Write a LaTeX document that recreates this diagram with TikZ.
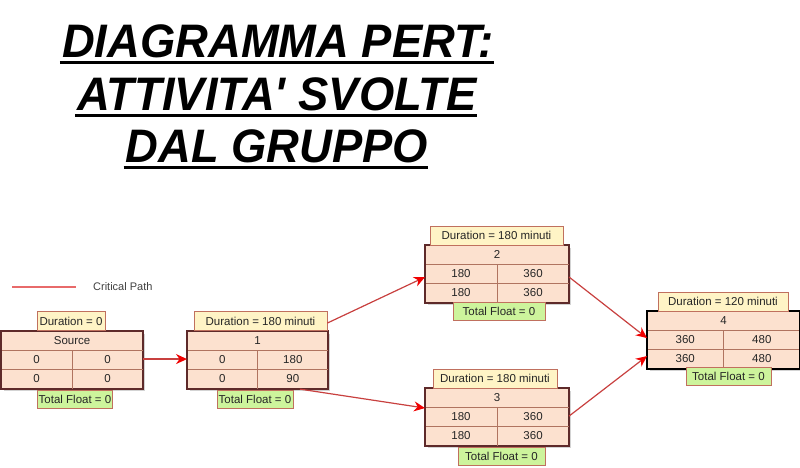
\documentclass[tikz,border=0pt]{standalone}
\usepackage{fontspec}
\setmainfont{Liberation Sans}
\newfontfamily\titlefont[FakeStretch=0.965]{Liberation Sans}
\usetikzlibrary{arrows.meta,shadows,calc}
\definecolor{tblfill}{HTML}{FCE1CF}
\definecolor{tblline}{HTML}{5E2A2A}
\definecolor{tblinner}{HTML}{B07460}
\definecolor{durfill}{HTML}{FFF4C6}
\definecolor{boxline}{HTML}{C0705E}
\definecolor{fltfill}{HTML}{CDF49C}
\definecolor{conn}{HTML}{C8403F}
\definecolor{tipred}{HTML}{F00000}
\definecolor{legline}{HTML}{E86A6A}
\tikzset{
  tablebox/.style={draw=tblline, line width=1.1pt, fill=tblfill, inner sep=0pt,
    drop shadow={opacity=0.35, shadow xshift=2pt, shadow yshift=-2pt}},
  celltext/.style={inner sep=0pt, font=\fontsize{11.5}{13}\selectfont, text=black!85},
  durbox/.style={draw=boxline, line width=0.9pt, fill=durfill, inner sep=0pt,
    minimum height=19pt, font=\fontsize{11.5}{13}\selectfont, text=black!85},
  fltbox/.style={draw=boxline, line width=0.9pt, fill=fltfill, inner sep=0pt,
    minimum height=18pt, font=\fontsize{11.5}{13}\selectfont, text=black!85},
  crit/.style={draw=conn, line width=1.2pt, -{Stealth[length=11pt, width=10pt, color=tipred]}},
  titleline/.style={inner sep=0pt, anchor=base, font=\titlefont\bfseries\itshape\fontsize{47}{50}\selectfont},
  uline/.style={line width=3pt, line cap=butt}
}
% #1 name, #2 x0, #3 y0, #4 x1, #5 title, #6 #7 row 2, #8 #9 row 3
\newcommand\pertTable[9]{%
  \node[tablebox, anchor=north west, minimum width={(#4-#2)*1pt}, minimum height=57pt] (#1) at (#2,#3) {};
  \draw[tblinner, line width=0.8pt] ($(#1.north west)+(0,19)$) -- ($(#1.north east)+(0,19)$)
    ($(#1.north west)+(0,38)$) -- ($(#1.north east)+(0,38)$)
    ($(#1.north)+(0,19)$) -- (#1.south);
  \draw[tblline, line width=1.2pt] (#1.north west) rectangle (#1.south east);
  \node[celltext] (#1-t) at ($(#1.north)+(0,9.5)$) {#5};
  \node[celltext] (#1-a) at ($(#1.north west)!0.5!(#1.north)+(0,28.5)$) {#6};
  \node[celltext] (#1-b) at ($(#1.north)!0.5!(#1.north east)+(0,28.5)$) {#7};
  \node[celltext] (#1-c) at ($(#1.north west)!0.5!(#1.north)+(0,47.5)$) {#8};
  \node[celltext] (#1-d) at ($(#1.north)!0.5!(#1.north east)+(0,47.5)$) {#9};
}
\begin{document}
\begin{tikzpicture}[x=1pt,y=-1pt]
\useasboundingbox (0,0) rectangle (800,467);
% title
\node[titleline] (t1) at (278,57) {DIAGRAMMA PERT:};
\node[titleline] (t2) at (277,110) {ATTIVITA\textquotesingle\ SVOLTE};
\node[titleline] (t3) at (277,162) {DAL GRUPPO};
\draw[uline] ($(t1.base west)+(-2,5)$) -- ($(t1.base east)+(0,5)$);
\draw[uline] ($(t2.base west)+(-2,5)$) -- ($(t2.base east)+(0,5)$);
\draw[uline] ($(t3.base west)+(-2,5)$) -- ($(t3.base east)+(0,5)$);
% legend
\coordinate (lg1) at (12,287);
\coordinate (lg2) at (76,287);
\draw[legline, line width=1.2pt] (lg1) -- (lg2);
\node[anchor=west, inner sep=0pt, font=\fontsize{11}{12}\selectfont, text=black!75] (legtext) at (93,287) {Critical Path};
% nodes
\pertTable{src}{1}{331}{142}{Source}{0}{0}{0}{0}
\node[durbox, minimum width=68pt] (src-dur) at (71,321) {Duration = 0};
\node[fltbox, minimum width=75pt] (src-flt) at (75,399) {Total Float = 0};

\pertTable{n1}{187}{331}{327}{1}{0}{180}{0}{90}
\node[durbox, minimum width=133pt] (n1-dur) at (260.5,321) {Duration = 180 minuti};
\node[fltbox, minimum width=76pt] (n1-flt) at (255,399) {Total Float = 0};

\pertTable{n2}{425}{245}{568}{2}{180}{360}{180}{360}
\node[durbox, minimum width=133pt] (n2-dur) at (496.5,235.5) {Duration = 180 minuti};
\node[fltbox, minimum width=92pt] (n2-flt) at (499,311) {Total Float = 0};

\pertTable{n3}{425}{388}{568}{3}{180}{360}{180}{360}
\node[durbox, minimum width=124pt] (n3-dur) at (495,378.5) {Duration = 180 minuti};
\node[fltbox, minimum width=87pt] (n3-flt) at (501.5,456) {Total Float = 0};

\pertTable{n4}{647}{311}{799}{4}{360}{480}{360}{480}
\draw[black, line width=1.4pt] (n4.north west) rectangle (n4.south east);
\node[durbox, minimum width=130pt] (n4-dur) at (723,301.5) {Duration = 120 minuti};
\node[fltbox, minimum width=85pt] (n4-flt) at (728.5,376.5) {Total Float = 0};
% connectors
\draw[crit] ($(src.east)+(0,-1)$) -- ($(n1.west)+(0,-1)$);
\draw[crit] ($(n1-dur.east)+(0,2)$) -- ($(n2.west)+(0,3)$);
\draw[crit] ($(n1.south west)!0.8!(n1.south east)$) -- ($(n3.west)+(0,-9)$);
\draw[crit] ($(n2.east)+(0,3)$) -- ($(n4.west)+(0,-2)$);
\draw[crit] ($(n3.east)+(0,-1)$) -- ($(n4.west)+(0,16)$);
\end{tikzpicture}
\end{document}
